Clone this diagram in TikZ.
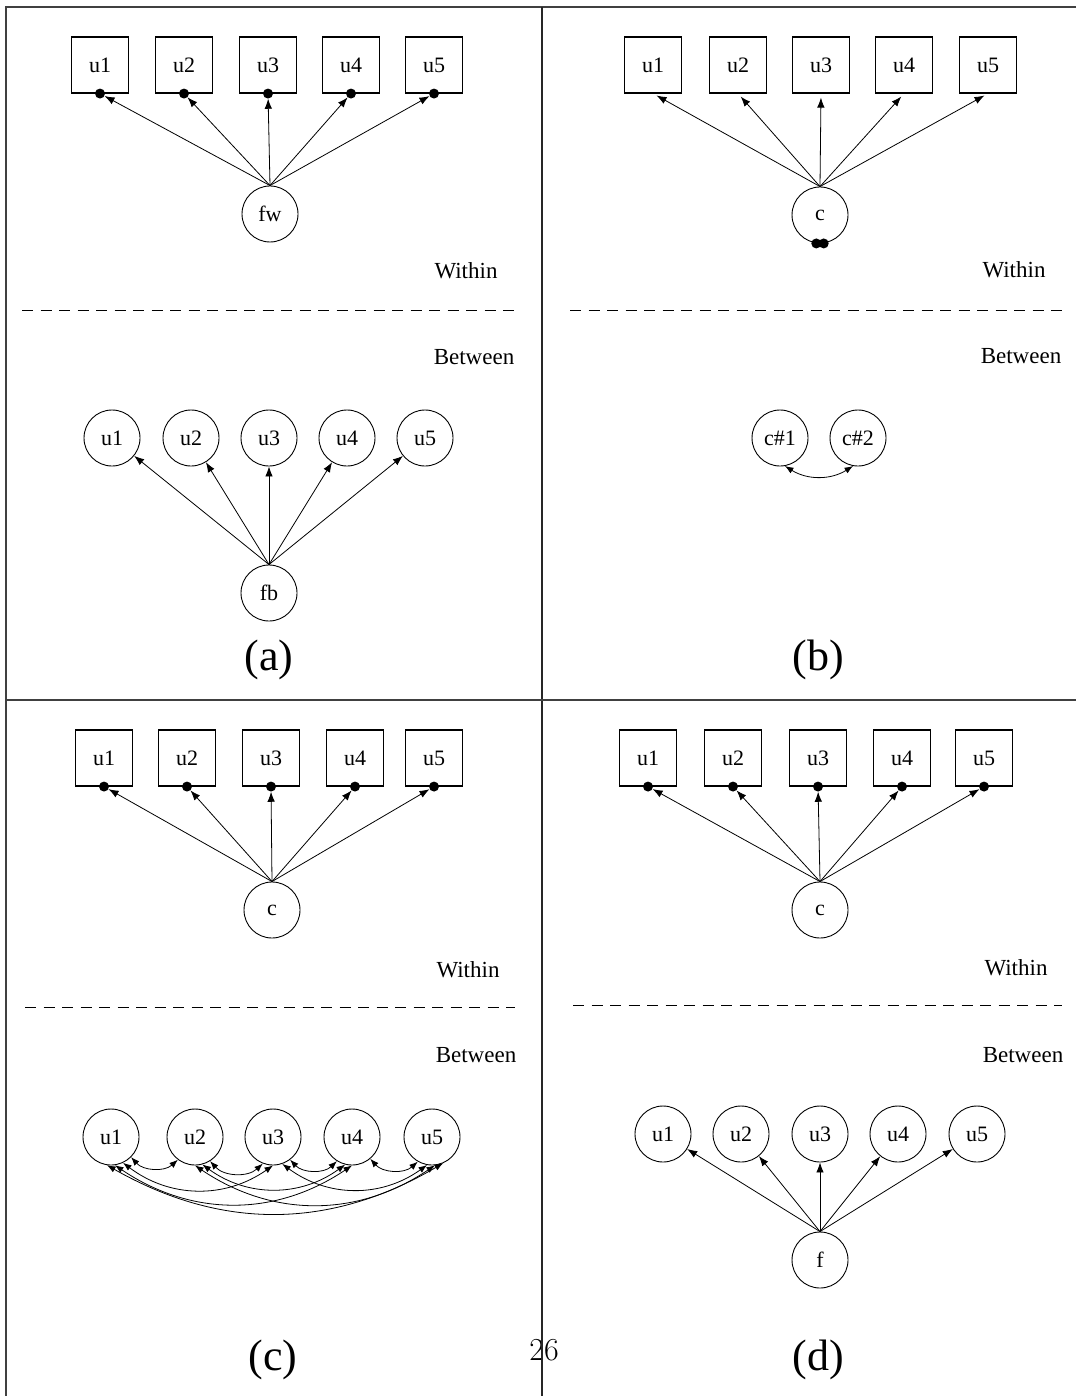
\documentclass[tikz,border=0pt]{standalone}
\usepackage{fontspec}
\setmainfont{Liberation Serif}
\usetikzlibrary{arrows.meta}
\begin{document}
\begin{tikzpicture}[x=1pt,y=-1pt,
  lbl/.style={font=\fontsize{22}{26}\selectfont},
  obs/.style={draw, line width=1.1pt, minimum width=57pt, minimum height=56pt, inner sep=0pt, lbl},
  lat/.style={draw, circle, line width=0.9pt, minimum size=56pt, inner sep=0pt, lbl},
  dotn/.style={circle, fill, inner sep=0pt, minimum size=10pt},
  arr/.style={-{Latex[length=10pt,width=7.5pt]}, line width=0.8pt},
  barr/.style={{Latex[length=8.5pt,width=6.5pt]}-{Latex[length=8.5pt,width=6.5pt]}, line width=0.8pt},
  lev/.style={font=\fontsize{23}{27}\selectfont},
  panellbl/.style={font=\fontsize{44}{48}\selectfont},
  sepline/.style={dash pattern=on 11pt off 7.5pt, line width=0.9pt},
  framel/.style={line width=1.5pt, draw=black!75}
]
\useasboundingbox (0,0) rectangle (1076,1396);

% ---------- panel (a) ----------
\foreach \i/\x in {1/100,2/184,3/268,4/351,5/434} {
  \node[obs] (a\i) at (\x,65) {u\i};
  \node[dotn] (ad\i) at (a\i.south) {};
}
\node[lat] (fw) at (270,214) {fw};
\foreach \i in {1,...,5} \draw[arr] (fw.north) -- (ad\i);
\node[lev] (aw) at (466,271) {Within};
\draw[sepline] (22,310) -- (515,310);
\node[lev] (ab) at (474,357) {Between};
\foreach \i/\x in {1/112,2/191,3/269,4/347,5/425} \node[lat] (abu\i) at (\x,438) {u\i};
\node[lat] (fb) at (269,593) {fb};
\foreach \i in {1,...,5} \draw[arr] (fb.north) -- (abu\i);
\node[panellbl] (la) at (269,660) {(a)};

% ---------- panel (b) ----------
\foreach \i/\x in {1/653,2/738,3/821,4/904,5/988} \node[obs] (b\i) at (\x,65) {u\i};
\node[lat] (cb) at (820,215) {c};
\node[dotn] (cbd1) at ([xshift=-3.7pt]cb.south) {};
\node[dotn] (cbd2) at ([xshift=3.7pt]cb.south) {};
\foreach \i in {1,...,5} \draw[arr, shorten >=4pt] (cb.north) -- (b\i.south);
\node[lev] (bw) at (1014,270) {Within};
\draw[sepline] (570,310) -- (1062,310);
\node[lev] (bb) at (1021,356) {Between};
\node[lat] (cc1) at (780,438) {c\#1};
\node[lat] (cc2) at (858,438) {c\#2};
\draw[barr] (cc1.-80) to[bend right=32] (cc2.-100);
\node[panellbl] (lb) at (818,660) {(b)};

% ---------- panel (c) ----------
\foreach \i/\x in {1/104,2/187,3/271,4/355,5/434} {
  \node[obs] (c\i) at (\x,758) {u\i};
  \node[dotn] (cd\i) at (c\i.south) {};
}
\node[lat] (cw) at (272,910) {c};
\foreach \i in {1,...,5} \draw[arr] (cw.north) -- (cd\i);
\node[lev] (cwl) at (468,970) {Within};
\draw[sepline] (25,1007) -- (515,1007);
\node[lev] (cbl) at (476,1055) {Between};
\foreach \i/\x in {1/111,2/195,3/273,4/352,5/432} \node[lat] (cu\i) at (\x,1137) {u\i};
\begin{scope}[barr]
\draw (cu1.-45) to[bend right=45] (cu2.-127);
\draw (cu2.-58) to[bend right=45] (cu3.-111);
\draw (cu3.-53) to[bend right=45] (cu4.-122);
\draw (cu4.-50) to[bend right=45] (cu5.-120);
\draw (cu1.-65) to[bend right=36] (cu3.-90);
\draw (cu2.-75) to[bend right=36] (cu4.-104);
\draw (cu3.-71) to[bend right=36] (cu5.-100);
\draw (cu1.-82) to[bend right=34] (cu4.-90);
\draw (cu2.-90) to[bend right=34] (cu5.-84);
\draw (cu1.-98) to[bend right=30] (cu5.-67);
\end{scope}
\node[panellbl] (lc) at (273,1360) {(c)};

% ---------- panel (d) ----------
\foreach \i/\x in {1/648,2/733,3/818,4/902,5/984} {
  \node[obs] (d\i) at (\x,758) {u\i};
  \node[dotn] (dd\i) at (d\i.south) {};
}
\node[lat] (cd) at (820,910) {c};
\foreach \i in {1,...,5} \draw[arr] (cd.north) -- (dd\i);
\node[lev] (dwl) at (1016,968) {Within};
\draw[sepline] (573,1005) -- (1062,1005);
\node[lev] (dbl) at (1023,1055) {Between};
\foreach \i/\x in {1/663,2/741,3/820,4/898,5/977} \node[lat] (du\i) at (\x,1134) {u\i};
\node[lat] (fd) at (820,1260) {f};
\foreach \i in {1,...,5} \draw[arr] (fd.north) -- (du\i);
\node[panellbl] (ld) at (818,1360) {(d)};

% ---------- page number ----------
\node[font=\fontfamily{lmr}\fontsize{32}{36}\selectfont] (pg) at (544,1350) {26};

% ---------- frame ----------
\draw[framel] (1076,7) -- (6,7) -- (6,1396);
\draw[framel, draw=black!85] (542,7) -- (542,1396);
\draw[framel] (6,700) -- (1076,700);
\end{tikzpicture}
\end{document}
